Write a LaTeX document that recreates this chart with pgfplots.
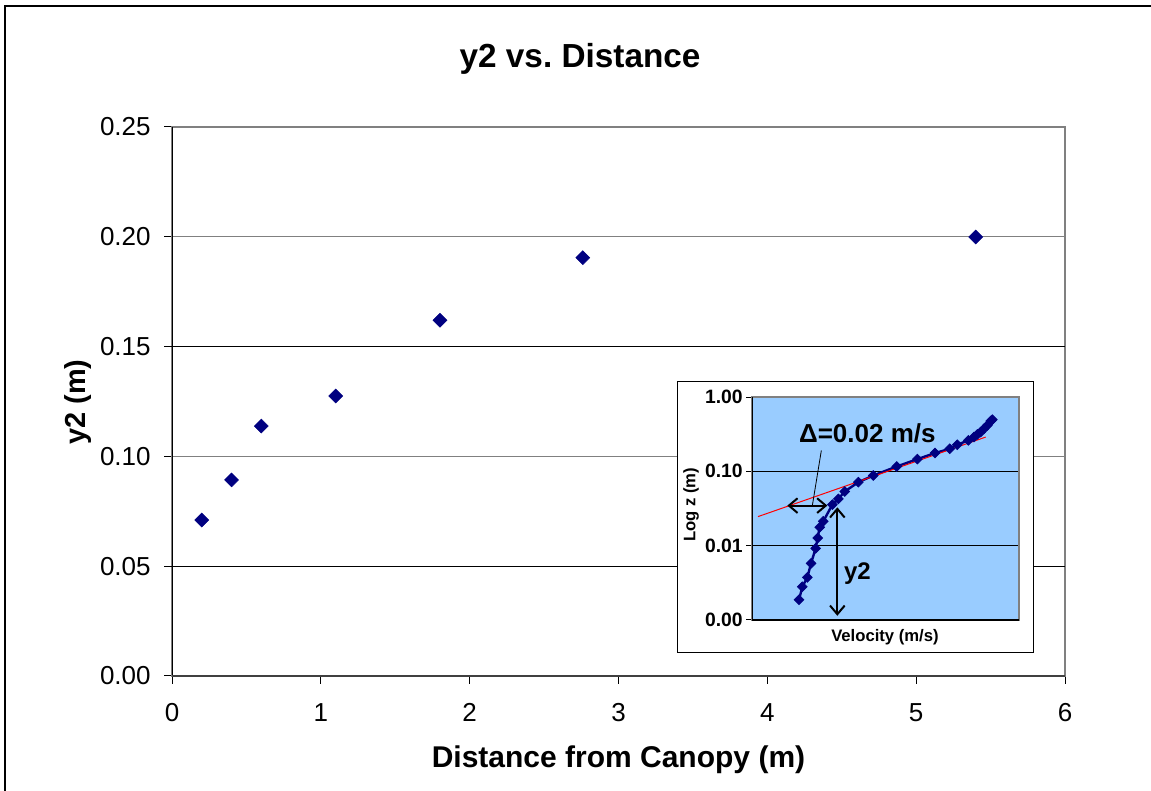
\documentclass[border=0pt]{standalone}
\usepackage{fontspec}
\setmainfont{Liberation Sans}
\usepackage{pgfplots}
\pgfplotsset{compat=1.18}
\usetikzlibrary{arrows.meta}
\definecolor{navy}{RGB}{0,0,128}
\definecolor{skyb}{RGB}{153,204,255}
\definecolor{bordergray}{RGB}{128,128,128}
\frenchspacing

\pgfplotstableread{
x y
0.2 0.071
0.4 0.0893
0.6 0.1138
1.1 0.1275
1.8 0.162
2.76 0.1905
5.4 0.1999
}\maindata

\pgfplotstableread{
x y
370 0.00187
380 0.0028
395 0.00374
406 0.00578
420 0.0092
426 0.0127
432 0.0177
443 0.0213
470 0.0357
488 0.0426
507 0.0535
548 0.0714
593 0.0879
663 0.116
725 0.146
778 0.176
822 0.201
845 0.228
878 0.261
895 0.289
905 0.314
915 0.337
925 0.374
935 0.415
945 0.475
950 0.495
}\insetdata

\begin{document}
\begin{tikzpicture}[x=0.75pt,y=0.75pt]
\path[use as bounding box] (0,0) rectangle (1151,791);
\draw[line width=1.5pt] (5,0) -- (5,785) -- (1151,785);
\begin{axis}[
  at={(129pt,86.25pt)}, anchor=south west,
  width=669.75pt, height=411.75pt, scale only axis,
  xmin=0, xmax=6, ymin=0, ymax=0.25,
  xtick={0,1,2,3,4,5,6},
  ytick={0,0.1,0.2,0.25},
  extra y ticks={0.05,0.15},
  extra y tick style={grid style={black, line width=0.75pt}},
  xtick pos=bottom, ytick pos=left,
  tick align=outside, major tick length=6pt,
  tick style={black, line width=0.75pt},
  ymajorgrids,
  grid style={bordergray, line width=0.75pt},
  axis line style={bordergray, line width=1.2pt},
  /pgf/number format/assume math mode=true,
  yticklabel style={/pgf/number format/fixed, /pgf/number format/fixed zerofill, /pgf/number format/precision=2, font=\fontsize{19.5}{22}\selectfont, xshift=-6.5pt},
  xticklabel style={font=\fontsize{19.5}{22}\selectfont, yshift=-11pt},
  title={y2 vs. Distance},
  title style={font=\fontsize{25}{30}\selectfont\bfseries, at={(axis description cs:0.457,1.109)}, anchor=center},
  xlabel={Distance from Canopy (m)},
  xlabel style={font=\fontsize{22.5}{26}\selectfont\bfseries, at={(axis description cs:0.5,-0.152)}, anchor=center},
  ylabel={y2 (m)},
  ylabel style={font=\fontsize{21.7}{26}\selectfont\bfseries, at={(axis description cs:-0.105,0.499)}, anchor=center},
  clip=false,
]
\addplot[only marks, mark=square*, mark size=3.7pt, mark options={rotate=45, draw=navy, fill=navy}] table[x=x,y=y] {\maindata};
\draw[black, line width=0.75pt] (axis description cs:0,0) -- (axis description cs:0,1);
\draw[black!75, line width=1.5pt] (axis description cs:0,0) -- (axis description cs:1,0);
\end{axis}

\draw[black, line width=0.75pt, fill=white] (677,138) rectangle (1033,409);

\begin{axis}[
  at={(564pt,128.25pt)}, anchor=south west,
  width=200.25pt, height=167.25pt, scale only axis,
  ymode=log, ymin=0.001, ymax=1, xmin=229, xmax=1030,
  ytick={0.001,0.01,0.1,1}, yticklabels={0.00,0.01,0.10,1.00},
  yminorticks=false,
  xtick=\empty,
  ytick pos=left, tick align=outside, major tick length=4.5pt,
  tick style={black, line width=0.75pt},
  axis background/.style={fill=skyb},
  ymajorgrids, grid style={black, line width=0.75pt},
  axis line style={bordergray, line width=1pt},
  yticklabel style={font=\fontsize{14.5}{17}\selectfont\bfseries, xshift=1pt},
  xlabel={Velocity (m/s)},
  xlabel style={font=\fontsize{12.5}{15}\selectfont\bfseries, at={(axis description cs:0.498,-0.076)}, anchor=center},
  ylabel={Log z (m)},
  ylabel style={font=\fontsize{12.5}{15}\selectfont\bfseries, at={(axis description cs:-0.228,0.516)}, anchor=center},
  clip=false,
]
\addplot[navy, line width=1.8pt, mark=square*, mark size=2.6pt, mark options={rotate=45, draw=navy, fill=navy, line width=0.5pt}] table[x=x,y=y] {\insetdata};
\addplot[red, line width=0.75pt] coordinates {(247,0.0246) (930,0.289)};
\draw[black, line width=0.75pt] (axis description cs:0,0) -- (axis description cs:0,1);
\draw[black, line width=1pt] (axis description cs:0,0) -- (axis description cs:1,0);
\draw[black, line width=0.6pt] (axis cs:437,0.191) -- (axis cs:410,0.0346);
\draw[black, line width=1.5pt, {Straight Barb[length=6.5pt,width=11pt]}-{Straight Barb[length=6.5pt,width=11pt]}] (axis cs:335,0.0346) -- (axis cs:455,0.0346);
\draw[black, line width=1.5pt, {Straight Barb[length=6.5pt,width=11pt]}-{Straight Barb[length=6.5pt,width=11pt]}] (axis cs:485,0.0328) -- (axis cs:485,0.00114);
\node[font=\fontsize{19.5}{22}\selectfont\bfseries] at (axis cs:575,0.32) {Δ=0.02 m/s};
\node[font=\fontsize{18}{22}\selectfont\bfseries] at (axis cs:545,0.0042) {y2};
\end{axis}
\end{tikzpicture}
\end{document}
